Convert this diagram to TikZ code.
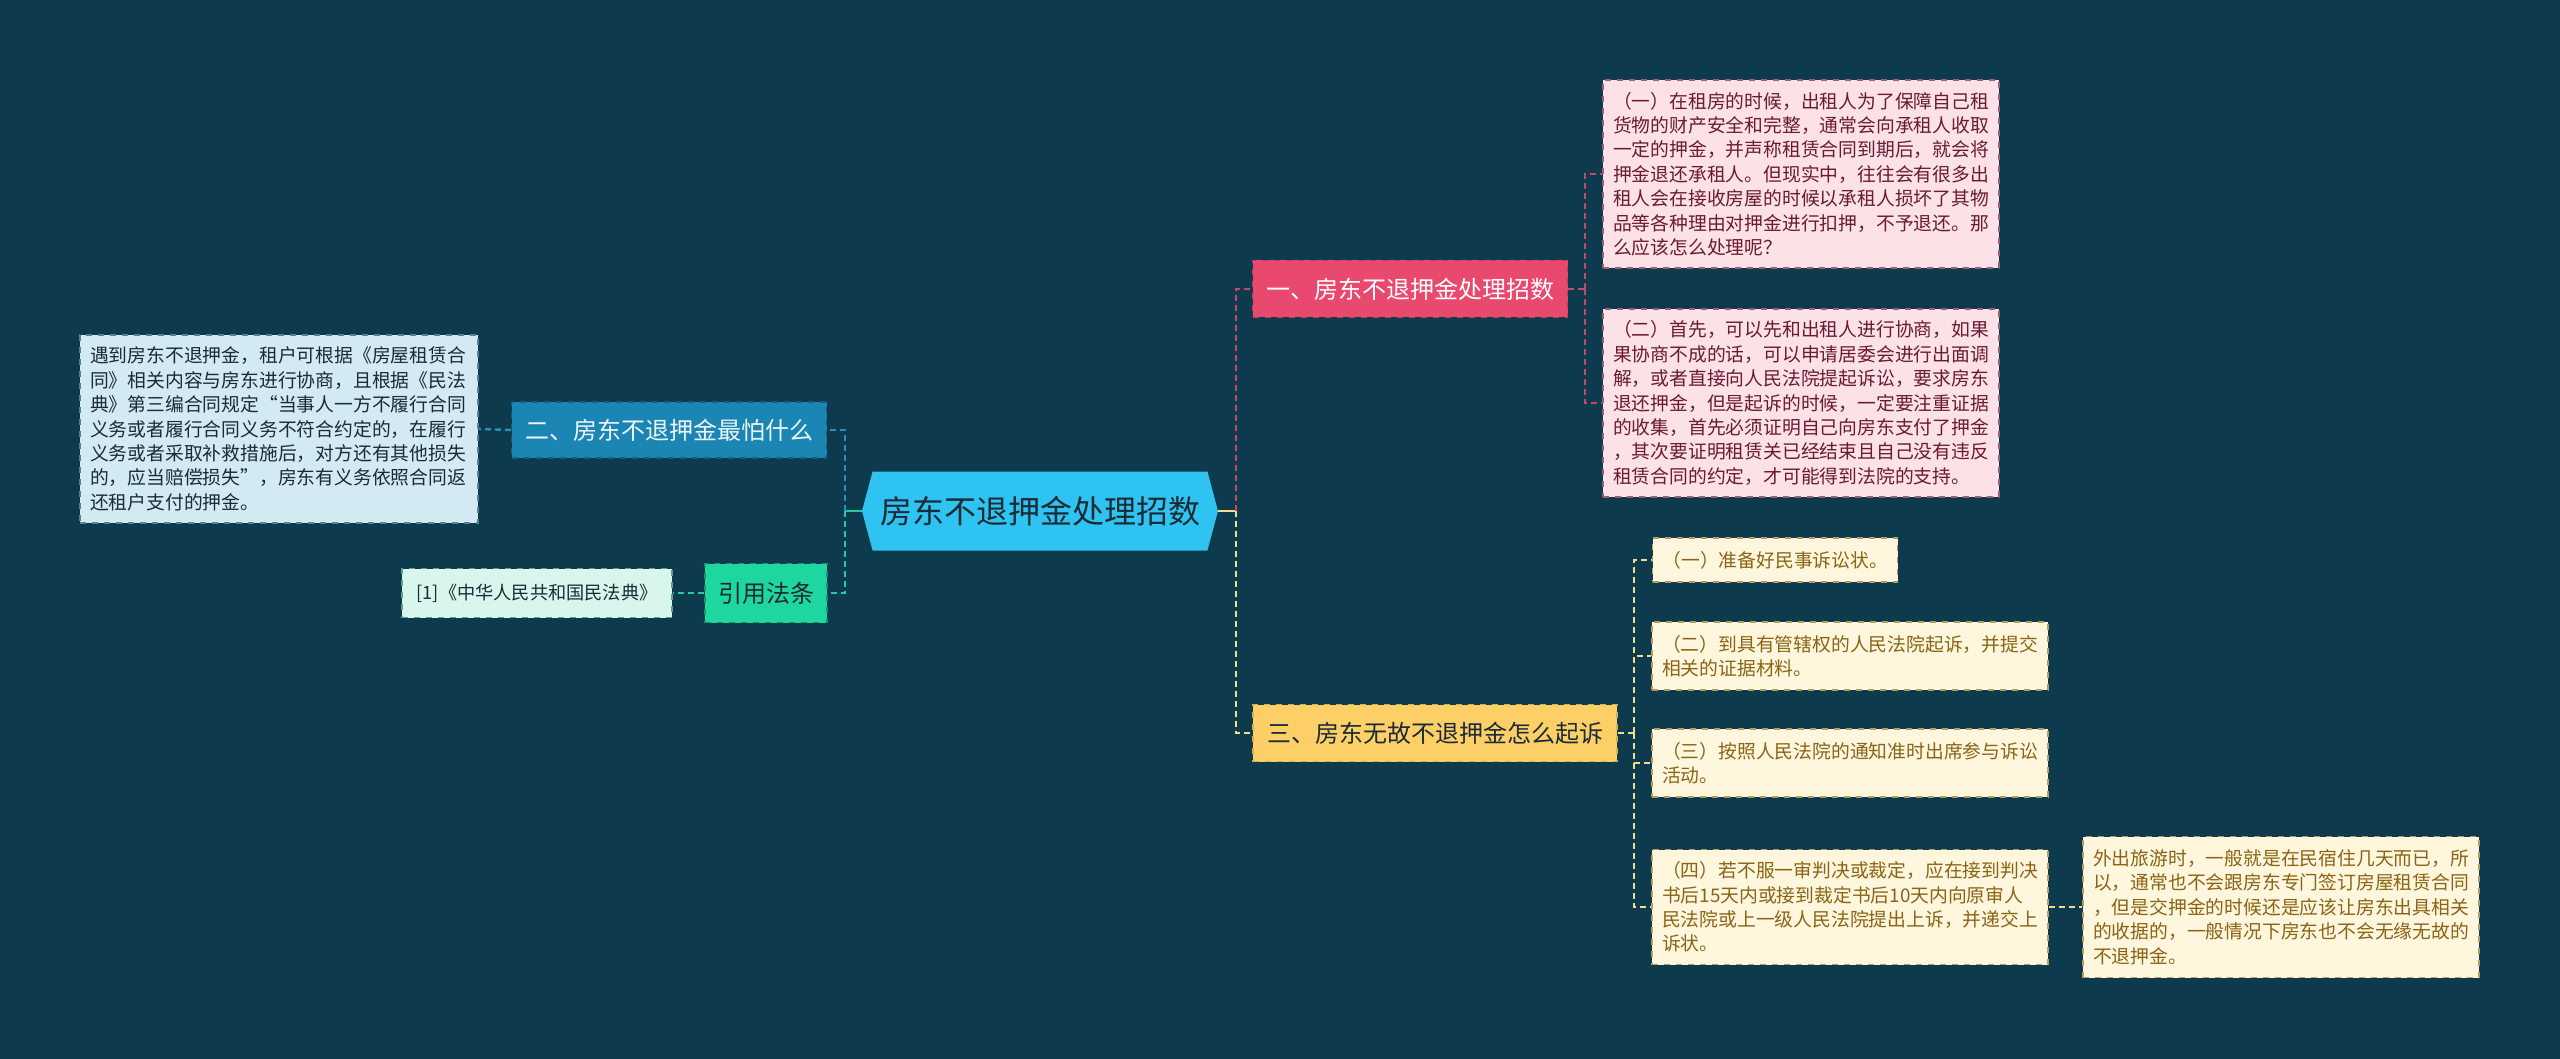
\documentclass[tikz,border=0pt]{standalone}
\usepackage{fontspec}
\setmainfont{Noto Sans CJK SC}
\usetikzlibrary{shapes.symbols}
\definecolor{bg}{HTML}{0D3A4D}\definecolor{cb}{HTML}{2EC3F0}\definecolor{dk}{HTML}{1B2A35}
\definecolor{pk}{HTML}{E9496F}\definecolor{pkd}{HTML}{C23A5C}\definecolor{pkl}{HTML}{FCE1E7}\definecolor{pkt}{HTML}{6A1B32}
\definecolor{yl}{HTML}{FDD067}\definecolor{yld}{HTML}{D9AE4A}\definecolor{yll}{HTML}{FFF6DE}\definecolor{ylt}{HTML}{8A6414}
\definecolor{bl}{HTML}{1B86B4}\definecolor{bll}{HTML}{D3EAF3}\definecolor{gr}{HTML}{1ED6A0}\definecolor{grl}{HTML}{D8F6EC}
\definecolor{lnp}{HTML}{C4486E}\definecolor{lny}{HTML}{F0DE8E}\definecolor{lnb}{HTML}{2A8FBD}\definecolor{lng}{HTML}{22CBA0}
\tikzset{ctr/.style={shape=signal,signal to=west and east,signal pointer angle=150,fill=cb,text=dk,inner sep=0pt,
  minimum width=178pt,minimum height=39.5pt,font=\fontsize{16}{19}\selectfont},
 br/.style={draw,dashed,line width=.6pt,inner sep=0pt,font=\fontsize{12}{14}\selectfont},
 lf/.style={draw,dashed,line width=.6pt,inner xsep=5pt,inner ysep=0pt,align=left,font=\fontsize{9.4}{12.2}\selectfont},
 pl/.style={lf,fill=pkl,draw=pkd!45!gray,text=pkt,text width=188pt,minimum height=94pt},
 yf/.style={lf,fill=yll,draw=yld!60!gray,text=ylt,text width=188pt},
 wp/.style={draw=lnp,dashed,dash pattern=on 3pt off 2pt,line width=1.2pt},
 wy/.style={draw=lny,dashed,dash pattern=on 3pt off 2pt,line width=1.2pt},
 wb/.style={draw=lnb,dashed,dash pattern=on 3pt off 2pt,line width=1.2pt},
 wg/.style={draw=lng,dashed,dash pattern=on 3pt off 2pt,line width=1.2pt}}
\begin{document}
\begin{tikzpicture}[x=.5pt,y=-.5pt]
\fill[bg](0,0)rectangle(2560,1059);
\node[ctr](c) at (1040,511){房东不退押金处理招数};
% right side
\node[br,fill=pk,draw=pkd,text=white,minimum width=157.5pt,minimum height=28.5pt](b1) at (1410,289){一、房东不退押金处理招数};
\node[br,fill=yl,draw=yld,text=dk,minimum width=182pt,minimum height=28.5pt](b3) at (1435,733){三、房东无故不退押金怎么起诉};
\node[pl](p1) at (1801,174){（一）在租房的时候，出租人为了保障自己租\\货物的财产安全和完整，通常会向承租人收取\\一定的押金，并声称租赁合同到期后，就会将\\押金退还承租人。但现实中，往往会有很多出\\租人会在接收房屋的时候以承租人损坏了其物\\品等各种理由对押金进行扣押，不予退还。那\\么应该怎么处理呢？};
\node[pl](p2) at (1801,403){（二）首先，可以先和出租人进行协商，如果\\果协商不成的话，可以申请居委会进行出面调\\解，或者直接向人民法院提起诉讼，要求房东\\退还押金，但是起诉的时候，一定要注重证据\\的收集，首先必须证明自己向房东支付了押金\\，其次要证明租赁关已经结束且自己没有违反\\租赁合同的约定，才可能得到法院的支持。};
\node[yf,text width=112.5pt,minimum height=22pt](y1) at (1775,560){（一）准备好民事诉讼状。};
\node[yf,minimum height=34pt](y2) at (1850,656){（二）到具有管辖权的人民法院起诉，并提交\\相关的证据材料。};
\node[yf,minimum height=34pt](y3) at (1850,763){（三）按照人民法院的通知准时出席参与诉讼\\活动。};
\node[yf,minimum height=57.5pt](y4) at (1850,907){（四）若不服一审判决或裁定，应在接到判决\\书后15天内或接到裁定书后10天内向原审人\\民法院或上一级人民法院提出上诉，并递交上\\诉状。};
\node[yf,minimum height=70.5pt](y5) at (2281,907){外出旅游时，一般就是在民宿住几天而已，所\\以，通常也不会跟房东专门签订房屋租赁合同\\，但是交押金的时候还是应该让房东出具相关\\的收据的，一般情况下房东也不会无缘无故的\\不退押金。};
% left side
\node[br,fill=bl,draw=bl!70!black,text=white!92!bl,minimum width=157.5pt,minimum height=28pt](b2) at (669,430){二、房东不退押金最怕什么};
\node[br,fill=gr,draw=gr!70!black,text=dk,minimum width=61pt,minimum height=29.5pt](b4) at (766,593){引用法条};
\node[lf,fill=bll,draw=bl!40!gray,text=dk,text width=189pt,minimum height=94pt](l2) at (279,429){遇到房东不退押金，租户可根据《房屋租赁合\\同》相关内容与房东进行协商，且根据《民法\\典》第三编合同规定“当事人一方不履行合同\\义务或者履行合同义务不符合约定的，在履行\\义务或者采取补救措施后，对方还有其他损失\\的，应当赔偿损失”，房东有义务依照合同返\\还租户支付的押金。};
\node[lf,fill=grl,draw=gr!40!gray,text=dk,inner xsep=3pt,minimum width=135pt,minimum height=24.5pt,font=\fontsize{9.1}{10}\selectfont](l4) at (537,593){[1]《中华人民共和国民法典》};
% connectors
\coordinate(rs) at (1236,511);\coordinate(ls) at (845,511);
\coordinate(ps) at (1585,289);\coordinate(ys) at (1634,733);
\draw[lny,line width=1.2pt](c.east)--(rs);\draw[lng,line width=1.2pt](c.west)--(ls);
\draw[wp](rs)|-(b1.west);\draw[wy](rs)|-(b3.west);
\draw[wb](ls)|-(b2.east);\draw[wg](ls)|-(b4.east);
\draw[wb](b2.west)--(l2.east);\draw[wg](b4.west)--(l4.east);
\draw[wp](b1.east)--(ps);\draw[wp,line width=1pt](ps)|-(p1.west);\draw[wp,line width=1pt](ps)|-(p2.west);
\draw[wy](b3.east)--(ys);
\foreach \n in {y1,y2,y3,y4}\draw[wy,line width=1pt](ys)|-(\n.west);
\draw[wy,line width=1pt](y4.east)--(y5.west);
\end{tikzpicture}
\end{document}
